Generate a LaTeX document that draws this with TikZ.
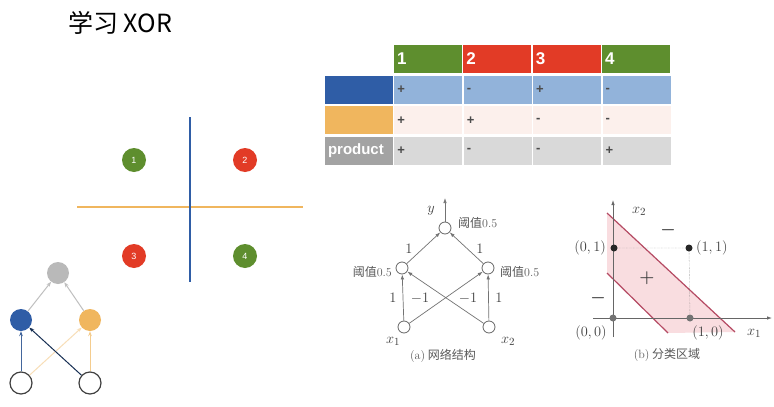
\documentclass[tikz,border=0pt]{standalone}
\usepackage{fontspec}
\usepackage{amsmath}
\usetikzlibrary{arrows.meta,positioning}
\newfontfamily\cjk{Noto Sans CJK SC}
\newfontfamily\arialf{Liberation Sans}

\definecolor{grn}{HTML}{5E8E2E}
\definecolor{rd}{HTML}{E23B26}
\definecolor{blu}{HTML}{2F5DA6}
\definecolor{lblu}{HTML}{92B3DA}
\definecolor{org}{HTML}{F0B65E}
\definecolor{lorg}{HTML}{FCF0EC}
\definecolor{gry}{HTML}{A3A3A3}
\definecolor{lgry}{HTML}{D9D9D9}
\definecolor{pnk}{HTML}{B54A63}
\definecolor{lpnk}{HTML}{F9DDE0}

\begin{document}
\begin{tikzpicture}[x=1pt, y=-1pt,
  hcell/.style={rectangle, minimum width=68pt, minimum height=28pt, inner sep=0pt,
    text width=62pt, align=left, text=white, font=\arialf\bfseries\fontsize{17}{17}\selectfont},
  cell/.style={hcell, text=black!70, font=\arialf\bfseries\fontsize{13}{13}\selectfont},
  qdot/.style={circle, minimum size=24pt, inner sep=0pt, text=white,
    font=\arialf\fontsize{9}{9}\selectfont},
  net/.style={circle, minimum size=22pt, inner sep=0pt},
  sarr/.style={-{Stealth[length=5pt]}, line width=1pt},
  unit/.style={circle, draw=black!60, line width=0.8pt, fill=white, minimum size=12pt, inner sep=0pt},
  warr/.style={-{Latex[length=5pt,width=3.5pt]}, draw=black!55, line width=0.7pt},
  lab/.style={font=\fontsize{15}{15}\selectfont, text=black!75, inner sep=1pt},
  thr/.style={font=\cjk\fontsize{12}{12}\selectfont, text=black!65, inner sep=1pt},
  captxt/.style={font=\cjk\fontsize{12}{12}\selectfont, text=black!65},
  pt/.style={circle, fill=black!85, minimum size=7pt, inner sep=0pt},
  sep/.style={draw=pnk, line width=1.2pt},
]
  \fill[white] (0,0) rectangle (774,407);
  \useasboundingbox (0,0) rectangle (774,407);

  \node[font=\cjk\fontsize{25}{25}\selectfont] (title) at (120,23) {学习 XOR};

  % sign table
  \node[hcell, fill=grn] (h1) at (428,59) {1};
  \node[hcell, fill=rd, right=1pt of h1] (h2) {2};
  \node[hcell, fill=rd, right=1pt of h2] (h3) {3};
  \node[hcell, fill=grn, right=1pt of h3] (h4) {4};

  \node[hcell, fill=blu] (lb) at (359,90) {};
  \node[cell, fill=lblu, right=1pt of lb] (b1) {+};
  \node[cell, fill=lblu, right=1pt of b1] (b2) {-};
  \node[cell, fill=lblu, right=1pt of b2] (b3) {+};
  \node[cell, fill=lblu, right=1pt of b3] (b4) {-};

  \node[hcell, fill=org, below=2pt of lb] (lo) {};
  \node[cell, fill=lorg, right=1pt of lo] (o1) {+};
  \node[cell, fill=lorg, right=1pt of o1] (o2) {+};
  \node[cell, fill=lorg, right=1pt of o2] (o3) {-};
  \node[cell, fill=lorg, right=1pt of o3] (o4) {-};

  \node[hcell, fill=gry, below=2pt of lo, font=\arialf\bfseries\fontsize{15}{15}\selectfont] (lp) {product};
  \node[cell, fill=lgry, right=1pt of lp] (p1) {+};
  \node[cell, fill=lgry, right=1pt of p1] (p2) {-};
  \node[cell, fill=lgry, right=1pt of p2] (p3) {-};
  \node[cell, fill=lgry, right=1pt of p3] (p4) {+};

  % four quadrants
  \coordinate (hl) at (77,207);
  \coordinate (hr) at (303,207);
  \coordinate (vt) at (190,117);
  \coordinate (vb) at (190,282);
  \draw[org, line width=2pt] (hl) -- (hr);
  \draw[blu, line width=2pt] (vt) -- (vb);
  \node[qdot, fill=grn] (d1) at (134,160) {1};
  \node[qdot, fill=rd]  (d2) at (245,160) {2};
  \node[qdot, fill=rd]  (d3) at (134,256) {3};
  \node[qdot, fill=grn] (d4) at (245,256) {4};

  % small network
  \node[net, fill=gray!55] (top) at (58,273) {};
  \node[net, fill=blu] (hb) at (21,320) {};
  \node[net, fill=org] (ho) at (90,320) {};
  \node[net, draw=black!75, line width=1.2pt, fill=white] (in1) at (21,383) {};
  \node[net, draw=black!75, line width=1.2pt, fill=white] (in2) at (90,383) {};
  \draw[sarr, draw=org!45] (in1) -- (ho);
  \draw[sarr, draw=org!70] (in2) -- (ho);
  \draw[sarr, draw=blu!75!gray] (in1) -- (hb);
  \draw[sarr, draw=black!50!blu] (in2) -- (hb);
  \draw[sarr, draw=gray!50] (hb) -- (top);
  \draw[sarr, draw=gray!50] (ho) -- (top);

  % (a) network
  \node[unit] (o)  at (445,228) {};
  \node[unit] (n1) at (402,268) {};
  \node[unit] (n2) at (488,268) {};
  \node[unit] (x1) at (404,327) {};
  \node[unit] (x2) at (489,327) {};
  \coordinate (yout) at (445,198);
  \draw[warr] (x1) -- (n1);
  \draw[warr] (x2) -- (n2);
  \draw[warr] (x1) -- (n2);
  \draw[warr] (x2) -- (n1);
  \draw[warr] (n1) -- (o);
  \draw[warr] (n2) -- (o);
  \draw[warr] (o) -- (yout);

  \node[lab] (ly) at (431,211) {$y$};
  \node[thr, anchor=west] (t0) at (457,223) {阈值\normalfont 0.5};
  \node[thr, anchor=east] (t1) at (393,272) {阈值\normalfont 0.5};
  \node[thr, anchor=west] (t2) at (499,272) {阈值\normalfont 0.5};
  \node[lab] (w1) at (409,249) {$1$};
  \node[lab] (w2) at (480,249) {$1$};
  \node[lab] (w3) at (393,298) {$1$};
  \node[lab] (w4) at (420,298) {$-1$};
  \node[lab] (w5) at (468,298) {$-1$};
  \node[lab] (w6) at (499,298) {$1$};
  \node[lab] (lx1) at (393,341) {$x_1$};
  \node[lab] (lx2) at (508,341) {$x_2$};
  \node[captxt] (capa) at (443,356) {\normalfont(a)\cjk\ 网络结构};

  % (b) regions
  \fill[lpnk] (607,213) -- (735,332) -- (668,333) -- (607,273) -- cycle;
  \coordinate (u0) at (607,213);
  \coordinate (u1) at (735,332);
  \coordinate (l0) at (607,273);
  \coordinate (l1) at (668,333);
  \draw[sep] (u0) -- (u1);
  \draw[sep] (l0) -- (l1);
  \coordinate (ax0) at (593,318);
  \coordinate (ax1) at (772,318);
  \coordinate (ay0) at (613,337);
  \coordinate (ay1) at (613,200);
  \draw[warr, draw=black!60, line width=0.8pt] (ax0) -- (ax1);
  \draw[warr, draw=black!60, line width=0.8pt] (ay0) -- (ay1);
  \node[pt, fill=black!55] (p00) at (613,318) {};
  \node[pt, fill=black!55] (p10) at (690,318) {};
  \node[pt] (p01) at (614,248) {};
  \node[pt] (p11) at (689,248) {};
  \draw[densely dotted, black!55] (p01) -- (p11) -- (p10);

  \node[lab, anchor=east] (l01) at (607,248) {$(0,1)$};
  \node[lab, anchor=west] (l11) at (695,248) {$(1,1)$};
  \node[lab] (l00) at (591,333) {$(0,0)$};
  \node[lab] (l10) at (708,333) {$(1,0)$};
  \node[lab] (lx2b) at (639,211) {$x_2$};
  \node[lab] (lx1b) at (754,333) {$x_1$};
  \node[lab, font=\fontsize{18}{18}\selectfont] (mn1) at (668,230) {$\boldsymbol{-}$};
  \node[lab, font=\fontsize{18}{18}\selectfont] (mn2) at (598,298) {$\boldsymbol{-}$};
  \node[lab, font=\fontsize{18}{18}\selectfont] (pl) at (647,278) {$\boldsymbol{+}$};
  \node[captxt] (capb) at (667,355) {\normalfont(b)\cjk\ 分类区域};
\end{tikzpicture}
\end{document}
